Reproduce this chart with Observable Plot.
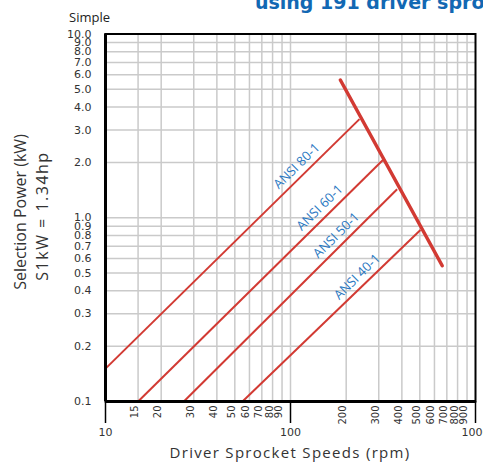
<!DOCTYPE html>
<html><head><meta charset="utf-8">
<script src="https://cdn.jsdelivr.net/npm/d3@7"></script>
<script src="https://cdn.jsdelivr.net/npm/@observablehq/plot@0.6"></script>
<style>
html,body{margin:0;padding:0;background:#fff;}
#wrap{position:relative;width:483px;height:462px;overflow:hidden;font-family:"Open Sans",sans-serif;color:#333;}
#chart{position:absolute;left:0;top:0;}
.abs{position:absolute;white-space:nowrap;}
#title{left:255px;top:-7px;line-height:1;font-family:"DejaVu Sans",sans-serif;font-weight:bold;font-size:19px;color:#1268b3;}
#simple{left:69px;top:8px;font-size:13px;color:#222;}
.ytitle{font-size:16px;transform:translate(-50%,-50%) rotate(-90deg);transform-origin:center;}
#xtitle{left:290px;top:452px;transform:translate(-50%,-50%);font-size:15px;letter-spacing:1.3px;}
</style>
</head><body>
<div id="wrap">
  <div id="chart"></div>
  <div class="abs" id="title">using 191 driver sprockets</div>
  <div class="abs" id="simple">Simple</div>
  <div class="abs ytitle" style="left:20px;top:212px;">Selection Power (kW)</div>
  <div class="abs ytitle" style="left:42px;top:216px;letter-spacing:1.5px;">S1kW = 1.34hp</div>
  <div class="abs" id="xtitle">Driver Sprocket Speeds (rpm)</div>
</div>
<script>
const chains = ["ANSI 80-1", "ANSI 60-1", "ANSI 50-1", "ANSI 40-1"];
const startRpm = [10, 15, 26.5, 55];
const startKw = [0.151, 0.1, 0.1, 0.1];
const endRpm = [236, 317, 377, 504];
const endKw = [3.44, 2.07, 1.43, 0.857];
const limitRpm = [186, 661];
const limitKw = [5.62, 0.548];
const labelRpm = [118, 157, 193, 250];
const labelKw = [1.75, 1.04, 0.735, 0.437];
const yTicks = [0.1, 0.2, 0.3, 0.4, 0.5, 0.6, 0.7, 0.8, 0.9, 1, 2, 3, 4, 5, 6, 7, 8, 9, 10];
const xMinorTicks = [15, 20, 30, 40, 50, 60, 70, 80, 90, 200, 300, 400, 500, 600, 700, 800, 900];
const xMajorTicks = [10, 100, 1000];

const segs = chains.map((c, i) => ({chain: c, x1: startRpm[i], y1: startKw[i], x2: endRpm[i], y2: endKw[i]}));
const limit = limitRpm.map((x, i) => ({x, y: limitKw[i]}));
const labels = chains.map((c, i) => ({chain: c, x: labelRpm[i], y: labelKw[i]}));

const red = "#d23a33";
const grid = "#cacaca";
const tickFont = "'DejaVu Sans', sans-serif";

const plot = Plot.plot({
  width: 483,
  height: 462,
  marginLeft: 105,
  marginRight: 8,
  marginTop: 33.5,
  marginBottom: 61,
  style: {fontFamily: "'Open Sans', sans-serif", color: "#333", background: "transparent", overflow: "visible"},
  x: {type: "log", domain: [10, 1000], axis: null},
  y: {type: "log", domain: [0.1, 10], axis: null},
  marks: [
    Plot.ruleX(xMinorTicks.concat([100]), {stroke: grid, strokeWidth: 1.5}),
    Plot.ruleY(yTicks, {stroke: grid, strokeWidth: 1.5}),
    Plot.text(yTicks, {y: d => d, frameAnchor: "left", text: d => d.toFixed(1), textAnchor: "end", dx: -14, fontFamily: tickFont, fontSize: 11, fill: "#333"}),
    Plot.text(xMinorTicks, {x: d => d, frameAnchor: "bottom", text: d => String(d), rotate: -90, textAnchor: "end", dy: 4, fontFamily: tickFont, fontSize: 10, fill: "#333"}),
    Plot.axisX({ticks: xMajorTicks, tickFormat: d => String(d), tickSize: 22, tickPadding: 5, fontFamily: tickFont, fontSize: 11, stroke: "#000", strokeWidth: 1.5, fill: "#333", label: null}),
    Plot.link(segs, {x1: "x1", y1: "y1", x2: "x2", y2: "y2", stroke: red, strokeWidth: 2}),
    Plot.line(limit, {x: "x", y: "y", stroke: red, strokeWidth: 3.5}),
    Plot.text(labels, {x: "x", y: "y", text: "chain", rotate: -44.5, dx: -7, dy: -7, fill: "#2a78c2", fontSize: 13}),
    Plot.frame({stroke: "#000", strokeWidth: 2}),
    Plot.ruleX([10], {stroke: "#000", strokeWidth: 3}),
    Plot.ruleY([0.1], {stroke: "#000", strokeWidth: 3})
  ]
});
document.getElementById("chart").appendChild(plot);
</script>
</body></html>
